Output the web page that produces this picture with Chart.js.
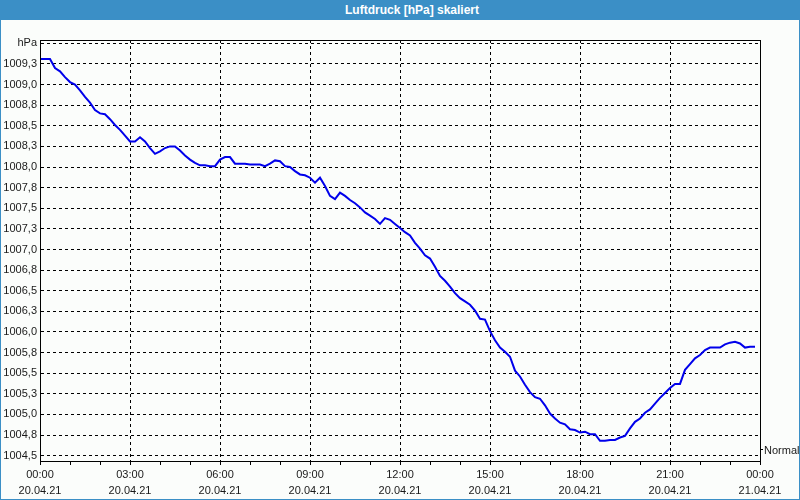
<!DOCTYPE html>
<html>
<head>
<meta charset="utf-8">
<script src="https://cdn.jsdelivr.net/npm/chart.js@4/dist/chart.umd.min.js"></script>
<style>
  body { margin: 0; }
  #win {
    position: relative;
    width: 800px;
    height: 500px;
    background: #fbfdfb;
    overflow: hidden;
  }
  #head {
    position: absolute;
    left: 0; top: 0;
    width: 800px; height: 20px;
    box-sizing: border-box;
    padding-left: 24px;
    background: #3b8fc6;
    color: #fff;
    font: bold 12px "Liberation Sans", Arial, sans-serif;
    line-height: 20px;
    text-align: center;
  }
  #frame {
    position: absolute;
    left: 0; top: 0; width: 800px; height: 500px;
    box-sizing: border-box;
    border: 1px solid #3b8fc6;
    border-top: none;
    pointer-events: none;
  }
  canvas { position: absolute; left: 0; top: 0; }
</style>
</head>
<body>
<div id="win">
  <canvas id="chart" width="800" height="500"></canvas>
  <div id="head">Luftdruck [hPa] skaliert</div>
  <div id="frame"></div>
</div>
<script>
// minutes since 20.04.21 00:00 (10 minute samples)
const minutes = [
  0, 10, 20, 30, 40, 50, 60, 70, 80, 90, 100, 110, 120, 130, 140, 150, 160, 170,
  180, 190, 200, 210, 220, 230, 240, 250, 260, 270, 280, 290, 300, 310, 320, 330, 340, 350,
  360, 370, 380, 390, 400, 410, 420, 430, 440, 450, 460, 470, 480, 490, 500, 510, 520, 530,
  540, 550, 560, 570, 580, 590, 600, 610, 620, 630, 640, 650, 660, 670, 680, 690, 700, 710,
  720, 730, 740, 750, 760, 770, 780, 790, 800, 810, 820, 830, 840, 850, 860, 870, 880, 890,
  900, 910, 920, 930, 940, 950, 960, 970, 980, 990, 1000, 1010, 1020, 1030, 1040, 1050, 1060, 1070,
  1080, 1090, 1100, 1110, 1120, 1130, 1140, 1150, 1160, 1170, 1180, 1190, 1200, 1210, 1220, 1230, 1240, 1250,
  1260, 1270, 1280, 1290, 1300, 1310, 1320, 1330, 1340, 1350, 1360, 1370, 1380, 1390, 1400, 1410, 1420, 1430
];

// Luftdruck in hPa
const pressure = [
  1009.31, 1009.31, 1009.31, 1009.20, 1009.16, 1009.09, 1009.03, 1009.00, 1008.93, 1008.85, 1008.78, 1008.69, 1008.65, 1008.64, 1008.58, 1008.51, 1008.45, 1008.38,
  1008.31, 1008.31, 1008.36, 1008.31, 1008.23, 1008.16, 1008.19, 1008.23, 1008.25, 1008.25, 1008.20, 1008.14, 1008.09, 1008.05, 1008.02, 1008.02, 1008.01, 1008.01,
  1008.09, 1008.12, 1008.12, 1008.04, 1008.04, 1008.04, 1008.03, 1008.03, 1008.03, 1008.01, 1008.04, 1008.08, 1008.07, 1008.01, 1008.00, 1007.95, 1007.91, 1007.90,
  1007.87, 1007.81, 1007.87, 1007.77, 1007.65, 1007.61, 1007.69, 1007.65, 1007.60, 1007.56, 1007.51, 1007.45, 1007.41, 1007.37, 1007.31, 1007.38, 1007.36, 1007.31,
  1007.26, 1007.21, 1007.17, 1007.08, 1007.01, 1006.93, 1006.89, 1006.79, 1006.68, 1006.62, 1006.55, 1006.47, 1006.41, 1006.37, 1006.33, 1006.26, 1006.16, 1006.15,
  1006.01, 1005.90, 1005.81, 1005.76, 1005.70, 1005.53, 1005.46, 1005.36, 1005.27, 1005.21, 1005.19, 1005.11, 1005.01, 1004.95, 1004.90, 1004.88, 1004.82, 1004.81,
  1004.78, 1004.79, 1004.76, 1004.76, 1004.68, 1004.68, 1004.69, 1004.69, 1004.72, 1004.74, 1004.83, 1004.91, 1004.95, 1005.02, 1005.06, 1005.13, 1005.20, 1005.26,
  1005.32, 1005.37, 1005.37, 1005.54, 1005.61, 1005.68, 1005.72, 1005.78, 1005.81, 1005.81, 1005.81, 1005.85, 1005.87, 1005.88, 1005.86, 1005.81, 1005.82, 1005.82
];

// y axis ticks and their labels
const yTickValues = [1004.5, 1004.75, 1005, 1005.25, 1005.5, 1005.75, 1006, 1006.25, 1006.5, 1006.75,
  1007, 1007.25, 1007.5, 1007.75, 1008, 1008.25, 1008.5, 1008.75, 1009, 1009.25, 1009.5];
const yTickLabels = ["1004,5", "1004,8", "1005,0", "1005,3", "1005,5", "1005,8", "1006,0", "1006,3", "1006,5", "1006,8",
  "1007,0", "1007,3", "1007,5", "1007,8", "1008,0", "1008,3", "1008,5", "1008,8", "1009,0", "1009,3", "hPa"];

// x axis: labelled every 3 hours, small tick every hour
const xLabelMinutes = [0, 180, 360, 540, 720, 900, 1080, 1260, 1440];
const xTickLabels = [
  ["00:00", "20.04.21"], ["03:00", "20.04.21"], ["06:00", "20.04.21"], ["09:00", "20.04.21"],
  ["12:00", "20.04.21"], ["15:00", "20.04.21"], ["18:00", "20.04.21"], ["21:00", "20.04.21"],
  ["00:00", "21.04.21"]
];

const font = { family: "'Liberation Sans', Arial, sans-serif", size: 11 };

// Frame around plot and the "Normal" marker on the right
const framePlugin = {
  id: "frame",
  afterDraw(chart) {
    const ctx = chart.ctx;
    const a = chart.chartArea;
    ctx.save();
    ctx.strokeStyle = "#000";
    ctx.lineWidth = 1;
    ctx.strokeRect(Math.round(a.left) + 0.5, Math.round(a.top) + 0.5,
      Math.round(a.right - a.left), Math.round(a.bottom - a.top));
    let y = Math.round(a.bottom) - 11.5;
    ctx.beginPath();
    ctx.moveTo(a.right, y);
    ctx.lineTo(a.right + 3, y);
    ctx.stroke();
    ctx.fillStyle = "#1a1a1a";
    ctx.font = "11px 'Liberation Sans', Arial, sans-serif";
    ctx.textAlign = "left";
    ctx.textBaseline = "middle";
    ctx.fillText("Normal", a.right + 4, y + 1);
    ctx.restore();
  },
};

const points = minutes.map((m, i) => ({ x: m, y: pressure[i] }));

new Chart(document.getElementById("chart"), {
  type: "line",
  data: {
    datasets: [
      {
        data: points,
        borderColor: "rgb(0,0,235)",
        borderWidth: 2,
        pointRadius: 0,
        tension: 0,
      },
    ],
  },
  options: {
    responsive: false,
    animation: false,
    layout: { padding: { left: 0, right: 40, top: 40, bottom: 0 } },
    plugins: {
      legend: { display: false },
      tooltip: { enabled: false },
    },
    scales: {
      x: {
        type: "linear",
        min: 0,
        max: 1440,
        afterBuildTicks: (scale) => {
          let ticks = [];
          for (let m = 0; m <= 1440; m += 60) ticks.push({ value: m });
          scale.ticks = ticks;
        },
        afterFit: (scale) => { scale.height = 39; },
        grid: {
          color: (c) => (xLabelMinutes.includes(c.tick.value) ? "#000" : "rgba(0,0,0,0)"),
          tickColor: "#000",
          tickLength: 4,
          lineWidth: 1,
        },
        border: { color: "#000", width: 1, dash: [3, 3] },
        ticks: {
          autoSkip: false,
          maxRotation: 0,
          padding: 2,
          color: "#1a1a1a",
          font: { ...font, lineHeight: 1.45 },
          callback: (v) => {
            let idx = xLabelMinutes.indexOf(v);
            return idx >= 0 ? xTickLabels[idx] : "";
          },
        },
      },
      y: {
        min: 1004.435,
        max: 1009.54,
        afterBuildTicks: (scale) => {
          scale.ticks = yTickValues.map((v) => ({ value: v }));
        },
        afterFit: (scale) => { scale.width = 40; },
        grid: { color: "#000", drawTicks: false, lineWidth: 1 },
        border: { color: "#000", width: 1, dash: [3, 3] },
        ticks: {
          padding: 3,
          color: "#1a1a1a",
          font: font,
          callback: (v) => {
            let idx = yTickValues.indexOf(v);
            return idx >= 0 ? yTickLabels[idx] : "";
          },
        },
      },
    },
  },
  plugins: [framePlugin],
});
</script>
</body>
</html>
